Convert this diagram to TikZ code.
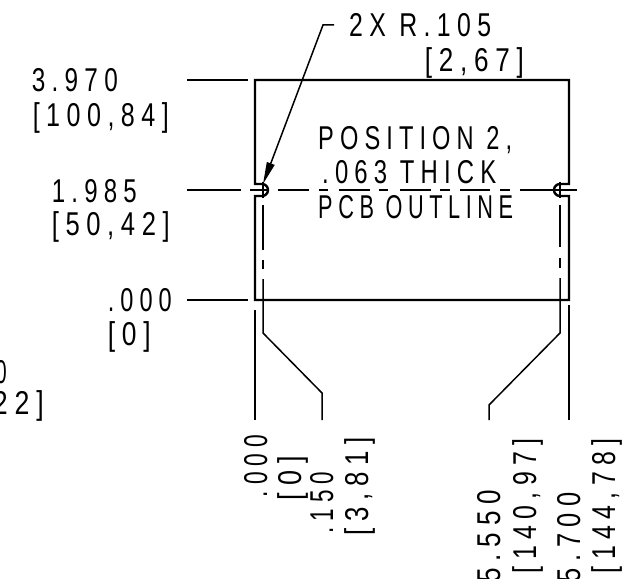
\documentclass[tikz,border=0pt]{standalone}
\usepackage{graphicx}
\usepackage{fontspec}
\setmainfont[FakeStretch=0.62,LetterSpace=16]{Liberation Sans}
\usetikzlibrary{arrows.meta}
\newcommand\fitw[2]{\resizebox{#1pt}{\height}{#2}}
\tikzset{
  lbl/.style={inner sep=0pt,font=\fontsize{33}{33}\selectfont,anchor=base east},
  lbll/.style={lbl,anchor=base west},
  vlbl/.style={lbl,rotate=90},
  thick line/.style={line width=2.4pt,line join=miter},
  thin line/.style={line width=1.5pt},
}
\begin{document}
\begin{tikzpicture}[x=1pt,y=-1pt]
\useasboundingbox (0,0) rectangle (642,578);
\clip (0,0) rectangle (642,578);
% outline
\draw[thick line] (255,300) -- (255,196) -- (262,196) arc[start angle=-90,end angle=90,radius=6pt] -- (255,184) -- (255,80) -- (569,80) -- (569,184) -- (560,184) arc[start angle=90,end angle=270,radius=6pt] -- (569,196) -- (569,300) -- cycle;
% extension lines
\draw[thin line] (187,80) -- (248,80);
\draw[thin line] (187,300) -- (248,300);
\draw[thin line] (187,190) -- (241,190);
\draw[thin line] (250,190) -- (268,190);
\draw[thin line] (278,190) -- (309,190) (319,190) -- (328,190) (339,190) -- (370,190) (379,190) -- (388,190) (400,190) -- (431,190) (440,190) -- (450,190) (460,190) -- (490,190) (500,190) -- (510,190) (520,190) -- (577,190);
\draw[thin line] (263,182) -- (263,198);
\draw[thin line] (560,182) -- (560,198);
\draw[thin line] (263,205) -- (263,250) (263,260) -- (263,269);
\draw[thin line] (263,279) -- (263,333) -- (322,393) -- (322,420);
\draw[thin line] (560,205) -- (560,247) (560,258) -- (560,268);
\draw[thin line] (560,278) -- (560,333) -- (489,405) -- (489,420);
\draw[thin line] (255,310) -- (255,420);
\draw[thin line] (569,305) -- (569,420);
% leader
\coordinate (hook) at (334,25);
\coordinate (knee) at (323,25);
\coordinate (tip) at (263,184);
\draw[thin line,-{Triangle[length=22pt,width=8pt]}] (hook) -- (knee) -- (tip);
% texts
\node[lbl] (a1) at (118,92) {\fitw{86}{3.970}};
\node[lbl] (a2) at (169,126) {\fitw{136}{[100,84]}};
\node[lbl] (b1) at (137,202) {\fitw{85}{1.985}};
\node[lbl] (b2) at (170,235) {\fitw{118}{[50,42]}};
\node[lbl] (c1) at (172,311) {\fitw{64}{.000}};
\node[lbl] (c2) at (151,345) {\fitw{43}{[0]}};
\node[lbl] (d1) at (7,383) {0};
\node[lbl] (d2) at (44,414) {\fitw{51}{22]}};
\node[lbll] (e1) at (349,37) {\fitw{142}{2X R.105}};
\node[lbl] (e2) at (524,71) {\fitw{99}{[2,67]}};
\node[lbll] (f1) at (318,149) {\fitw{194}{POSITION 2,}};
\node[lbll] (f2) at (322,183) {\fitw{174}{.063 THICK}};
\node[lbll] (f3) at (318,218) {\fitw{195}{PCB OUTLINE}};
\node[vlbl] (g1) at (267,435) {\fitw{62}{.000}};
\node[vlbl] (g2) at (301,456) {\fitw{44}{[0]}};
\node[vlbl] (g3) at (333,472) {\fitw{61}{.150}};
\node[vlbl] (g4) at (368,437) {\fitw{98}{[3,81]}};
\node[vlbl] (h1) at (500,490) {\fitw{92}{5.550}};
\node[vlbl] (h2) at (536,438) {\fitw{135}{[140,97]}};
\node[vlbl] (h3) at (580,492) {\fitw{90}{5.700}};
\node[vlbl] (h4) at (615,438) {\fitw{135}{[144,78]}};
\end{tikzpicture}
\end{document}
